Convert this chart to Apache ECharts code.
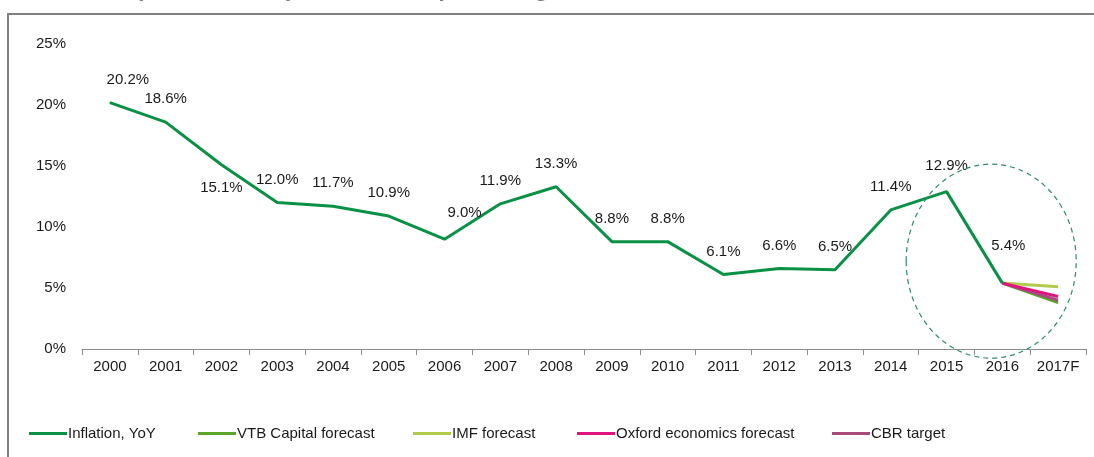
<!DOCTYPE html>
<html>
<head>
<meta charset="utf-8">
<script src="https://cdn.jsdelivr.net/npm/echarts@6/dist/echarts.min.js"></script>
<style>
  html, body { margin: 0; padding: 0; background: #fff; }
  #chart { width: 1094px; height: 457px; }
</style>
</head>
<body>
<div id="chart"></div>
<script>
// categories and values
const years = ['2000', '2001', '2002', '2003', '2004', '2005', '2006', '2007', '2008',
  '2009', '2010', '2011', '2012', '2013', '2014', '2015', '2016', '2017F'];
const inflation = [20.2, 18.6, 15.1, 12.0, 11.7, 10.9, 9.0, 11.9, 13.3,
  8.8, 8.8, 6.1, 6.6, 6.5, 11.4, 12.9, 5.4];
const vtbForecast = 3.8;
const imfForecast = 5.1;
const oxfordForecast = 4.3;
const cbrTarget = 4.0;
const yTicks = [0, 5, 10, 15, 20, 25];

const FONT = '"Liberation Sans Narrow", "Arial Narrow", "Liberation Sans", sans-serif';

// forecast lines start at the last actual point (2016)
function forecast(v) {
  const arr = years.map(() => null);
  arr[16] = inflation[16];
  arr[17] = v;
  return arr;
}

// per-point label tweaks so they sit like in the source
const labelTweaks = {
  0: { offset: [18, 0] },
  2: { position: 'bottom' },
  6: { offset: [20, -3] },
  15: { offset: [0, -3] },
  16: { offset: [6, -14] }
};
const inflationData = inflation.map((v, i) => {
  const t = labelTweaks[i];
  return t ? { value: v, label: t } : v;
});

const chart = echarts.init(document.getElementById('chart'));

const names = ['Inflation, YoY', 'VTB Capital forecast', 'IMF forecast', 'Oxford economics forecast', 'CBR target'];
const colors = ['#0a9146', '#5ba529', '#b1cb4a', '#e0147f', '#a84c80'];
const legendLeft = [24, 193, 408, 572, 827];

const option = {
  animation: false,
  textStyle: { fontFamily: FONT },
  grid: { left: 82, right: 8, top: 44, bottom: 108, containLabel: false },
  legend: names.map((n, i) => ({
    data: [n],
    left: legendLeft[i],
    top: 421,
    icon: 'rect',
    itemWidth: 38,
    itemHeight: 3,
    itemGap: 0,
    textStyle: { fontFamily: FONT, fontSize: 15, color: '#1a1a1a', padding: [0, 0, 0, -4] }
  })),
  xAxis: {
    type: 'category',
    data: years,
    boundaryGap: true,
    axisLine: { lineStyle: { color: '#8c8c8c', width: 1 } },
    axisTick: { show: true, length: 6, inside: false, lineStyle: { color: '#8c8c8c' } },
    axisLabel: { fontFamily: FONT, fontSize: 15, color: '#1a1a1a', margin: 10 },
    splitLine: { show: false }
  },
  yAxis: {
    type: 'value',
    min: yTicks[0],
    max: yTicks[yTicks.length - 1],
    interval: 5,
    axisLine: { show: false },
    axisTick: { show: false },
    splitLine: { show: false },
    axisLabel: { fontFamily: FONT, fontSize: 15, color: '#1a1a1a', margin: 16, formatter: v => v + '%' }
  },
  series: [
    {
      name: names[0], type: 'line', data: inflationData, z: 5,
      symbol: 'circle', symbolSize: 1, showSymbol: true, connectNulls: false,
      lineStyle: { color: colors[0], width: 3 },
      itemStyle: { color: colors[0] },
      label: {
        show: true, position: 'top', distance: 15,
        fontFamily: FONT, fontSize: 15, color: '#1a1a1a',
        formatter: p => Number(p.value).toFixed(1) + '%'
      }
    },
    {
      name: names[2], type: 'line', data: forecast(imfForecast), z: 3,
      symbol: 'none', lineStyle: { color: colors[2], width: 3 }, itemStyle: { color: colors[2] }
    },
    {
      name: names[1], type: 'line', data: forecast(vtbForecast), z: 3,
      symbol: 'none', lineStyle: { color: colors[1], width: 3 }, itemStyle: { color: colors[1] }
    },
    {
      name: names[4], type: 'line', data: forecast(cbrTarget), z: 3,
      symbol: 'none', lineStyle: { color: colors[4], width: 3 }, itemStyle: { color: colors[4] }
    },
    {
      name: names[3], type: 'line', data: forecast(oxfordForecast), z: 4,
      symbol: 'none', lineStyle: { color: colors[3], width: 3 }, itemStyle: { color: colors[3] }
    }
  ]
};

chart.setOption(option);

// frame, clipped heading and dashed ellipse around the forecast
const c = chart.convertToPixel({ xAxisIndex: 0, yAxisIndex: 0 }, ['2016', 7.2]);
const band = chart.convertToPixel({ xAxisIndex: 0 }, '2016') - chart.convertToPixel({ xAxisIndex: 0 }, '2015');
chart.setOption({
  graphic: [
    {
      type: 'text', x: 30, y: -23, silent: true,
      style: {
        text: 'Inflation: prices are expected to keep slowing, YoY',
        fontFamily: '"Liberation Sans", Arial, sans-serif', fontSize: 24, fontWeight: 'bold', fill: '#7f7f7f'
      }
    },
    { type: 'rect', shape: { x: 8, y: 13, width: 1086, height: 2 }, style: { fill: '#808080' }, silent: true },
    { type: 'rect', shape: { x: 7, y: 13, width: 2, height: 444 }, style: { fill: '#808080' }, silent: true },
    {
      type: 'ellipse', silent: true, z: 10,
      shape: { cx: c[0] - band * 0.2, cy: c[1], rx: 85, ry: 97 },
      style: { fill: 'none', stroke: '#2e8a68', lineWidth: 1.2, lineDash: [5, 4] }
    }
  ]
});
</script>
</body>
</html>
